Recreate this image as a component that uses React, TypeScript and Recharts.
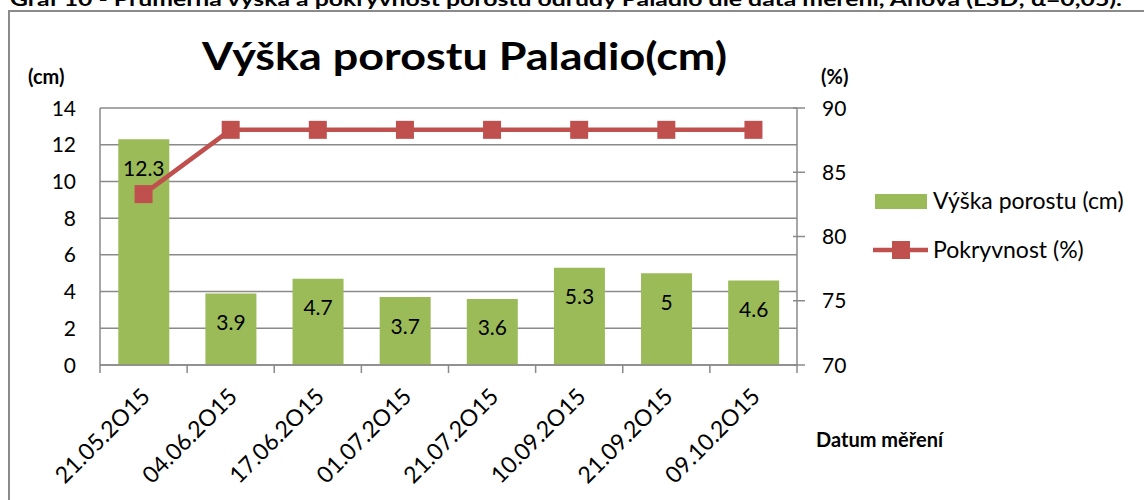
import React from 'react';
import { ComposedChart, Bar, Line, XAxis, YAxis, CartesianGrid, LabelList, Legend } from 'recharts';

const categories = ['21.05.2O15', '04.06.2O15', '17.06.2O15', '01.07.2O15', '21.07.2O15', '10.09.2O15', '21.09.2O15', '09.10.2O15'];
const heightValues = [12.3, 3.9, 4.7, 3.7, 3.6, 5.3, 5, 4.6];
const coverValues = [83.3, 88.3, 88.3, 88.3, 88.3, 88.3, 88.3, 88.3];
const leftTicks = [0, 2, 4, 6, 8, 10, 12, 14];
const rightTicks = [70, 75, 80, 85, 90];

const data = categories.map((c, i) => ({ date: c, height: heightValues[i], cover: coverValues[i] }));

const FONT = 'Lato, "Open Sans", sans-serif';
const GREEN = '#9BBB59';
const RED = '#C0504D';
const GRID = '#8a8a8a';
const W = 1144;
const H = 500;
const PLOT_LEFT = 100;
const PLOT_RIGHT = 797;
const PLOT_TOP = 108;
const PLOT_BOTTOM = 365;
const BAND = (PLOT_RIGHT - PLOT_LEFT) / categories.length;

const XTick = (props: any) => {
  const { x, index, payload } = props;
  const ay = PLOT_BOTTOM;
  return (
    <g>
      <line x1={x - BAND / 2} x2={x - BAND / 2} y1={ay} y2={ay + 8} stroke={GRID} strokeWidth={1.5} />
      {index === categories.length - 1 && (
        <line x1={x + BAND / 2} x2={x + BAND / 2} y1={ay} y2={ay + 8} stroke={GRID} strokeWidth={1.5} />
      )}
      <g transform={`translate(${x + 8},${ay + 33})`}>
        <text transform="rotate(-45)" textAnchor="end" fontFamily={FONT} fontSize={23} fill="#000">
          {payload.value}
        </text>
      </g>
    </g>
  );
};

const RightTick = (props: any) => {
  const { x, y, payload } = props;
  return (
    <g>
      <line x1={x - 29} x2={x - 17} y1={y} y2={y} stroke={GRID} strokeWidth={1.5} />
      <text x={x} y={y} dy="0.36em" textAnchor="start" fontFamily={FONT} fontSize={21} fill="#000">
        {payload.value}
      </text>
    </g>
  );
};

const LeftTick = (props: any) => {
  const { x, y, payload } = props;
  return (
    <text x={x} y={y} dy="0.36em" textAnchor="end" fontFamily={FONT} fontSize={21} fill="#000">
      {payload.value}
    </text>
  );
};

const BarLabel = (props: any) => {
  const { x, y, width, value } = props;
  return (
    <text x={x + width / 2} y={y + 29} dy="0.36em" textAnchor="middle" fontFamily={FONT} fontSize={21} fill="#000">
      {value}
    </text>
  );
};

const SquareDot = (props: any) => {
  const { cx, cy, index } = props;
  if (cx == null || cy == null) return <g key={index} />;
  return <rect key={index} x={cx - 9} y={cy - 9} width={18} height={18} fill={RED} />;
};

const LegendContent = () => (
  <svg width={280} height={90} style={{ display: 'block', overflow: 'visible' }}>
    <rect x={2} y={9} width={52} height={15} fill={GREEN} />
    <text x={60} y={24} fontFamily={FONT} fontSize={23} fill="#000">Výška porostu (cm)</text>
    <line x1={0} x2={55} y1={65} y2={65} stroke={RED} strokeWidth={4.5} />
    <rect x={19} y={56} width={18} height={18} fill={RED} />
    <text x={60} y={73} fontFamily={FONT} fontSize={23} fill="#000">Pokryvnost (%)</text>
  </svg>
);

export default function App() {
  return (
    <div style={{ position: 'absolute', left: 0, top: 0, width: W, height: H, background: '#fff', overflow: 'hidden' }}>
      <ComposedChart
        width={W}
        height={H}
        data={data}
        margin={{ top: PLOT_TOP, bottom: H - PLOT_BOTTOM - 100, left: PLOT_LEFT - 60, right: W - PLOT_RIGHT - 60 }}
        barCategoryGap="21%"
      >
        <CartesianGrid yAxisId="left" vertical={false} stroke={GRID} strokeWidth={1.5} />
        <XAxis
          dataKey="date"
          interval={0}
          height={100}
          tickLine={false}
          axisLine={{ stroke: GRID, strokeWidth: 1.5 }}
          tick={<XTick />}
        />
        <YAxis
          yAxisId="left"
          orientation="left"
          width={60}
          domain={[0, 14]}
          ticks={leftTicks}
          interval={0}
          tickLine={false}
          tickSize={0}
          tickMargin={24}
          axisLine={{ stroke: GRID, strokeWidth: 1.5 }}
          tick={<LeftTick />}
        />
        <YAxis
          yAxisId="right"
          orientation="right"
          width={60}
          domain={[70, 90]}
          ticks={rightTicks}
          interval={0}
          tickLine={false}
          tickSize={0}
          tickMargin={25}
          axisLine={{ stroke: GRID, strokeWidth: 1.5 }}
          tick={<RightTick />}
        />
        <Bar yAxisId="left" dataKey="height" name="Výška porostu (cm)" fill={GREEN} isAnimationActive={false}>
          <LabelList dataKey="height" content={<BarLabel />} />
        </Bar>
        <Line
          yAxisId="right"
          type="linear"
          dataKey="cover"
          name="Pokryvnost (%)"
          stroke={RED}
          strokeWidth={4.5}
          dot={<SquareDot />}
          activeDot={false}
          isAnimationActive={false}
        />
        <Legend
          layout="horizontal"
          verticalAlign="middle"
          align="center"
          content={<LegendContent />}
          wrapperStyle={{ position: 'absolute', left: 873, top: 185, width: 280, height: 90 }}
        />
      </ComposedChart>
      <svg width={W} height={H} style={{ position: 'absolute', left: 0, top: 0, pointerEvents: 'none' }}>
        <text x={10} y={6} fontFamily={FONT} fontWeight="bold" fontSize={19} fill="#000" textLength={1112} lengthAdjust="spacingAndGlyphs">
          Graf 10 - Průměrná výška a pokryvnost porostu odrůdy Paladio dle data měření, Anova (LSD; α=0,05).
        </text>
        <rect x={9} y={11} width={1200} height={600} fill="none" stroke={GRID} strokeWidth={2} />
        <text x={464.5} y={70} textAnchor="middle" fontFamily={FONT} fontWeight="bold" fontSize={38} fill="#000" textLength={525} lengthAdjust="spacingAndGlyphs">
          Výška porostu Paladio(cm)
        </text>
        <text x={28} y={84} fontFamily={FONT} fontWeight="bold" fontSize={20} fill="#000">(cm)</text>
        <text x={821} y={84} fontFamily={FONT} fontWeight="bold" fontSize={20} fill="#000">(%)</text>
        <text x={943} y={447} textAnchor="end" fontFamily={FONT} fontWeight="bold" fontSize={20} fill="#000">Datum měření</text>
      </svg>
    </div>
  );
}
